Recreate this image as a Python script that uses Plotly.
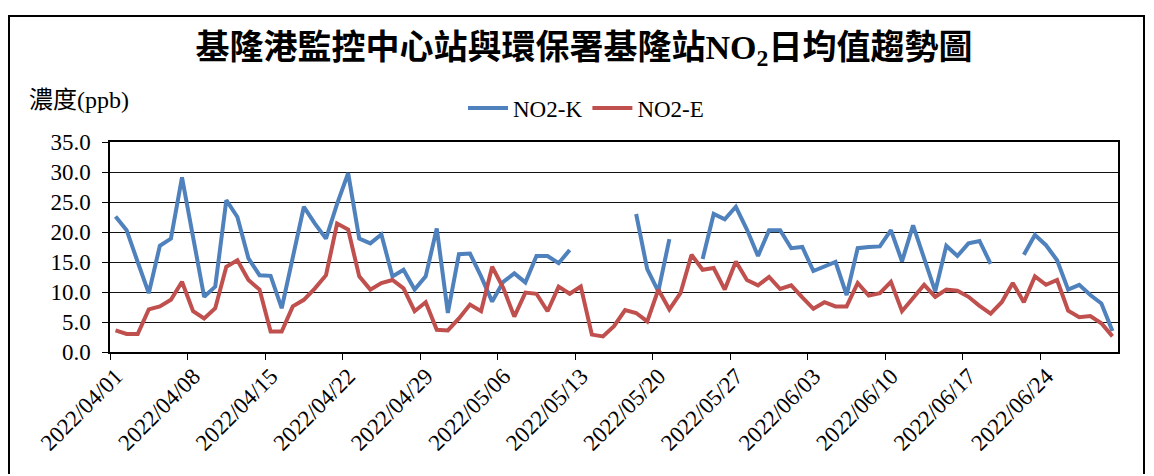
import pandas as pd
import plotly.graph_objects as go

# ---- data ----
dates = pd.date_range("2022-04-01", "2022-06-30", freq="D")

no2_k = [22.6, 20.3, 15.0, 9.8, 17.7, 18.9, 29.1, 19.3, 9.2, 10.9,
         25.3, 22.5, 15.6, 12.8, 12.7, 7.3, 15.6, 24.2, 21.4, 18.9,
         24.7, 29.8, 18.9, 18.1, 19.6, 12.6, 13.7, 10.4, 12.6, 20.6,
         6.5, 16.3, 16.4, 12.6, 8.4, 11.7, 13.1, 11.6, 16.0, 16.0,
         14.8, 17.0, None, None, None, None, None, 23.0, 13.8, 10.1,
         18.8, None, None, 15.5, 23.0, 22.1, 24.2, 20.4, 16.0, 20.3,
         20.3, 17.3, 17.5, 13.5, 14.3, 15.0, 9.5, 17.3, 17.5, 17.6,
         20.3, 15.1, 21.1, 15.6, 10.1, 17.7, 16.0, 18.1, 18.5, 14.7,
         None, None, 16.2, 19.5, 17.8, 15.3, 10.4, 11.2, 9.5, 8.1, 3.5]

no2_e = [3.6, 3.0, 3.0, 7.1, 7.6, 8.7, 11.7, 6.8, 5.6, 7.3,
         14.2, 15.3, 12.0, 10.4, 3.4, 3.4, 7.6, 8.7, 10.6, 12.8,
         21.4, 20.4, 12.6, 10.4, 11.5, 12.0, 10.6, 6.8, 8.3, 3.7,
         3.6, 5.6, 7.9, 6.8, 14.2, 10.7, 5.9, 9.9, 9.7, 6.8,
         10.9, 9.7, 10.9, 2.9, 2.6, 4.3, 7.0, 6.5, 5.1, 10.4,
         7.1, 9.8, 16.2, 13.7, 14.0, 10.4, 15.1, 12.0, 11.1, 12.5,
         10.5, 11.1, 9.1, 7.2, 8.3, 7.6, 7.6, 11.5, 9.4, 9.8,
         11.7, 6.8, 9.0, 11.2, 9.2, 10.4, 10.2, 9.2, 7.7, 6.4,
         8.3, 11.5, 8.3, 12.6, 11.2, 12.0, 6.9, 5.8, 6.0, 4.8, 2.6]

tick_labels = ["2022/04/01", "2022/04/08", "2022/04/15", "2022/04/22",
               "2022/04/29", "2022/05/06", "2022/05/13", "2022/05/20",
               "2022/05/27", "2022/06/03", "2022/06/10", "2022/06/17",
               "2022/06/24"]

series_names = ["NO2-K", "NO2-E"]
colors = ["#4F81BD", "#C0504D"]

# ---- layout geometry (page pixels; page body has an 8px margin) ----
OFF = 8
W, H = 1154 - 2 * OFF, 466
L, R, T, B = 110, 1118, 142, 352          # plot area in page pixels
pw, ph = R - L, B - T

def px_x(x):
    return (x - L) / pw

def px_y(y):
    return (B - y) / ph

half_day = pd.Timedelta(hours=12)
tickvals = [pd.Timestamp(lbl.replace("/", "-")) - half_day for lbl in tick_labels]

fig = go.Figure()
for name, vals, col in zip(series_names, [no2_k, no2_e], colors):
    fig.add_trace(go.Scatter(
        x=dates, y=vals, name=name, mode="lines",
        line=dict(color=col, width=4),
        connectgaps=False,
    ))

serif = "Liberation Serif, Times New Roman, Noto Sans CJK TC, serif"

fig.update_layout(
    width=W, height=H,
    margin=dict(l=L - OFF, r=W - (R - OFF), t=T - OFF, b=H - (B - OFF),
                autoexpand=False),
    paper_bgcolor="white", plot_bgcolor="white",
    font=dict(family=serif, color="black", size=20),
    title=dict(
        text="<b>基隆港監控中心站與環保署基隆站NO<sub>2</sub>日均值趨勢圖</b>",
        x=(584 - OFF) / W, xanchor="center",
        y=1 - (47 - OFF) / H, yanchor="middle",
        font=dict(family="Liberation Serif, Noto Sans CJK TC, serif", size=34, color="black"),
    ),
    legend=dict(
        orientation="h", x=px_x(586), xanchor="center",
        y=px_y(108), yanchor="middle",
        font=dict(family=serif, size=23, color="black"),
        bgcolor="rgba(0,0,0,0)", itemwidth=40,
    ),
    showlegend=True,
)

fig.update_xaxes(
    type="date",
    range=[dates[0] - half_day, dates[-1] + half_day],
    tickvals=tickvals, ticktext=tick_labels,
    tickangle=-45, ticks="outside", ticklen=6, tickcolor="black",
    ticklabelstandoff=-6, ticklabelshift=6,
    showgrid=False, showline=True, linecolor="black", linewidth=1.5,
    mirror=True, zeroline=False, automargin=False,
    tickfont=dict(family=serif, size=23, color="black"),
)

fig.update_yaxes(
    range=[0, 35], dtick=5, tick0=0, tickformat=".1f",
    ticks="outside", ticklen=6, tickcolor="black",
    ticklabelstandoff=7,
    showgrid=True, gridcolor="#111111", gridwidth=1.3,
    showline=True, linecolor="black", linewidth=1.5, mirror=True,
    zeroline=False, automargin=False,
    tickfont=dict(family=serif, size=23, color="black"),
)

# y-axis title at top-left
fig.add_annotation(
    text="濃度(ppb)", xref="paper", yref="paper",
    x=px_x(27), y=px_y(100), xanchor="left", yanchor="middle",
    showarrow=False,
    font=dict(family="Liberation Serif, Noto Sans CJK TC, serif", size=24, color="black"),
)

# outer frame
fig.add_shape(
    type="rect", xref="paper", yref="paper",
    x0=px_x(9), x1=px_x(1144), y0=px_y(520), y1=px_y(16),
    line=dict(color="black", width=2), fillcolor="rgba(0,0,0,0)", layer="above",
)

fig.write_html("out.html")
